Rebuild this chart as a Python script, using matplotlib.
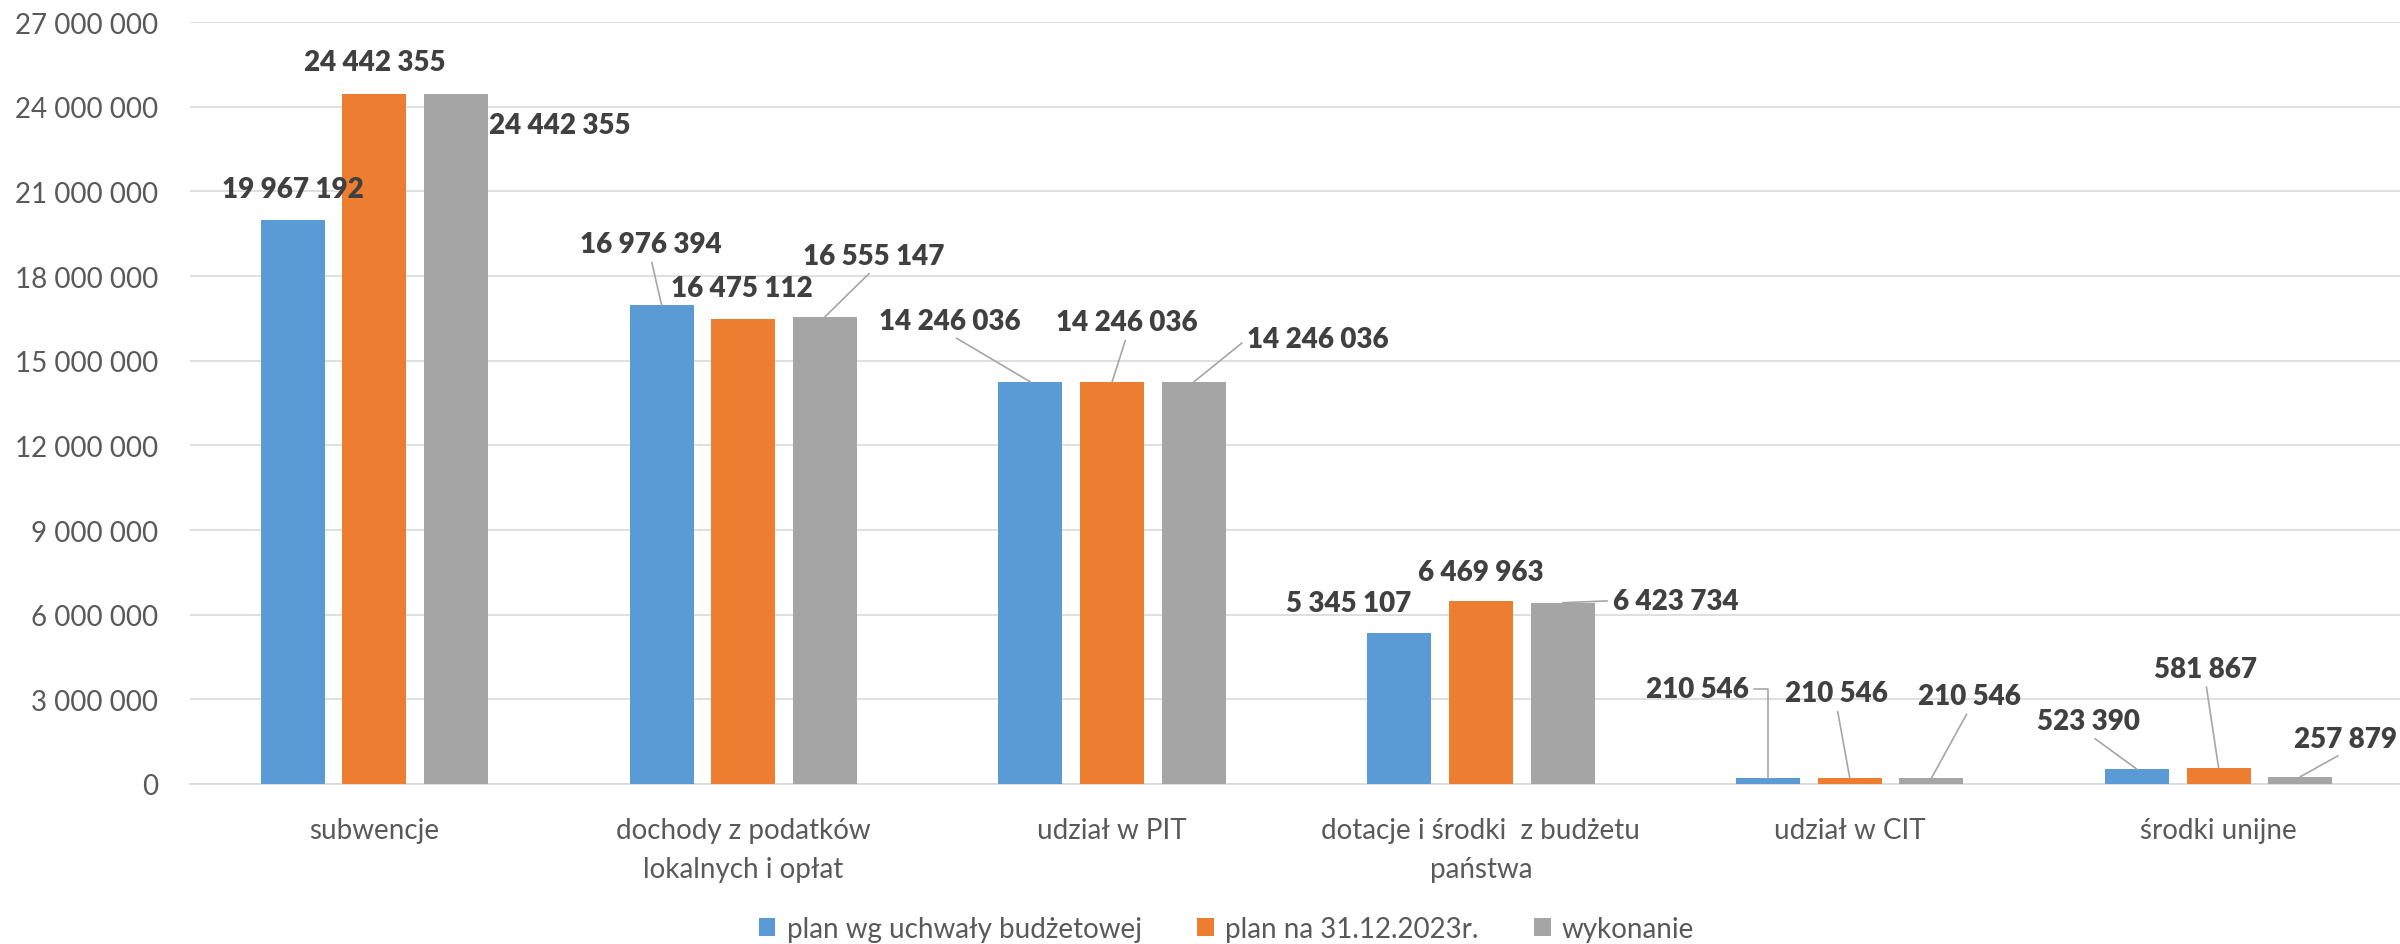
import matplotlib
matplotlib.use("Agg")
import matplotlib.pyplot as plt
import numpy as np

plt.rcParams['font.family'] = ['Lato', 'DejaVu Sans']

# ── data ──────────────────────────────────────────────────────────────────────
categories = ["subwencje", "dochody z podatków\nlokalnych i opłat", "udział w PIT",
              "dotacje i środki  z budżetu\npaństwa", "udział w CIT", "środki unijne"]
series_names = ["plan wg uchwały budżetowej", "plan na 31.12.2023r.", "wykonanie"]
plan_uchwala = [19967192, 16976394, 14246036, 5345107, 210546, 523390]
plan_koniec = [24442355, 16475112, 14246036, 6469963, 210546, 581867]
wykonanie = [24442355, 16555147, 14246036, 6423734, 210546, 257879]

colors = ["#5B9BD5", "#ED7D31", "#A5A5A5"]

# label offsets (pixels, relative to bar top centre) and leader start point on label
# None -> no leader line
label_pos = [
    [((0, 31), None), ((0, 32), None), ((104, -31), None)],
    [((-11, 61), (0.5, 0)), ((-1, 31), None), ((49, 61), (0.5, 0))],
    [((-81, 61), (0.5, 0)), ((15, 60), (0.5, 0)), ((124, 43), (0, 0.5))],
    [((-51, 30), None), ((0, 29), None), ((113, 2), (0, 0.5))],
    [((-71, 89), (1, 0.5)), ((-13, 85), (0.5, 0)), ((38, 82), (0.5, 0))],
    [((-48, 48), (0.5, 0)), ((-13, 99), (0.5, 0)), ((45, 38), (0.5, 0))],
]


def fmt(v):
    return f"{v:,.0f}".replace(",", " ")


# ── figure ────────────────────────────────────────────────────────────────────
fig = plt.figure(figsize=(24, 9.45), dpi=100)
ax = fig.add_axes([190 / 2400, 160 / 945, (2403 - 190) / 2400, 762 / 945])

x = np.arange(len(categories))
step = 0.2215
width = 0.1735
series = [plan_uchwala, plan_koniec, wykonanie]

for i, (vals, col, name) in enumerate(zip(series, colors, series_names)):
    xs = x + (i - 1) * step
    ax.bar(xs, vals, width=width, color=col, label=name, zorder=3)
    for j, (xx, v) in enumerate(zip(xs, vals)):
        (dx, dy), rel = label_pos[j][i]
        kw = {}
        if rel is not None:
            kw['arrowprops'] = dict(arrowstyle='-', color='#A6A6A6', lw=1.2,
                                    relpos=rel, shrinkA=2, shrinkB=0,
                                    connectionstyle=("angle,angleA=0,angleB=90,rad=0"
                                                     if rel == (1, 0.5) else "arc3"))
        ax.annotate(fmt(v), xy=(xx, v), xytext=(dx, dy), textcoords='offset pixels',
                    ha='center', va='center', fontsize=20, fontweight='heavy',
                    color='#404040', zorder=5, **kw)

ax.set_xlim(-0.5, len(categories) - 0.5)
ax.set_ylim(0, 27000000)
yt = np.arange(0, 27000001, 3000000)
ax.set_yticks(yt)
ax.set_yticklabels([fmt(v) for v in yt])
ax.set_xticks(x)
ax.set_xticklabels(categories, linespacing=1.6)
ax.tick_params(axis='both', length=0, labelsize=20, labelcolor='#595959')
ax.tick_params(axis='y', pad=23)
ax.tick_params(axis='x', pad=24)
ax.grid(axis='y', color='#D9D9D9', lw=1.2, zorder=0)
for s in ['top', 'right', 'left']:
    ax.spines[s].set_visible(False)
ax.spines['bottom'].set_color('#D9D9D9')
ax.spines['bottom'].set_linewidth(1.2)

fig.legend(loc='center', bbox_to_anchor=(0.511, 0.016), ncol=3, frameon=False,
           fontsize=20, labelcolor='#595959', handlelength=0.6, handleheight=0.6,
           handletextpad=0.4, columnspacing=2.0)

fig.savefig("out.png", dpi=100)
